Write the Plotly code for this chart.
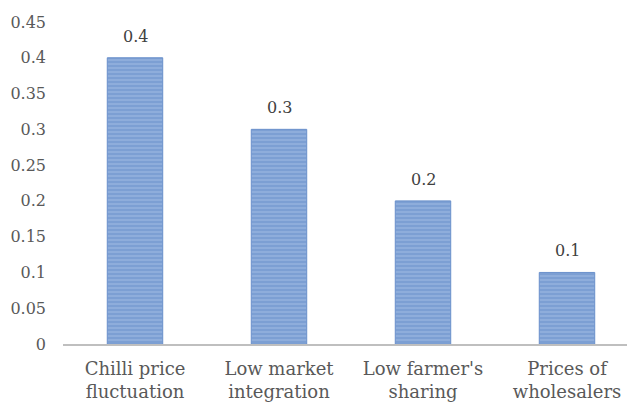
import plotly.graph_objects as go

categories = ["Chilli price<br>fluctuation", "Low market<br>integration", "Low farmer's<br>sharing", "Prices of<br>wholesalers"]
values = [0.4, 0.3, 0.2, 0.1]
value_labels = ["0.4", "0.3", "0.2", "0.1"]
y_ticks = [0, 0.05, 0.1, 0.15, 0.2, 0.25, 0.3, 0.35, 0.4, 0.45]
y_tick_labels = ["0", "0.05", "0.1", "0.15", "0.2", "0.25", "0.3", "0.35", "0.4", "0.45"]

font_family = "DejaVu Serif"

fig = go.Figure(go.Bar(
    x=categories, y=values,
    width=0.385,
    marker=dict(color="#7C9FD3", line=dict(color="#6A90CB", width=1),
                pattern=dict(shape="-", fgcolor="#A9C3E8", bgcolor="#7C9FD3", size=4, solidity=0.4)),
    cliponaxis=False,
))

for cat, val, lab in zip(categories, values, value_labels):
    fig.add_annotation(x=cat, y=val, text=lab, showarrow=False, yanchor="bottom", yshift=10,
                       font=dict(family=font_family, size=16, color="#404040"))

fig.update_layout(
    width=635, height=405,
    margin=dict(l=55, r=4, t=14, b=69),
    paper_bgcolor="white", plot_bgcolor="white",
    showlegend=False,
    font=dict(family=font_family, size=16, color="#595959"),
    xaxis=dict(showline=True, linecolor="#BFBFBF", linewidth=2, ticks="", showgrid=False, automargin=False,
               tickfont=dict(family=font_family, size=18, color="#595959"), ticklabelstandoff=7),
    yaxis=dict(range=[0, 0.45], tickvals=y_ticks, ticktext=y_tick_labels, showgrid=False, automargin=False,
               zeroline=False, showline=False, ticks="", ticklabelstandoff=16,
               tickfont=dict(family=font_family, size=16, color="#595959")),
)

fig.write_html("out.html")
